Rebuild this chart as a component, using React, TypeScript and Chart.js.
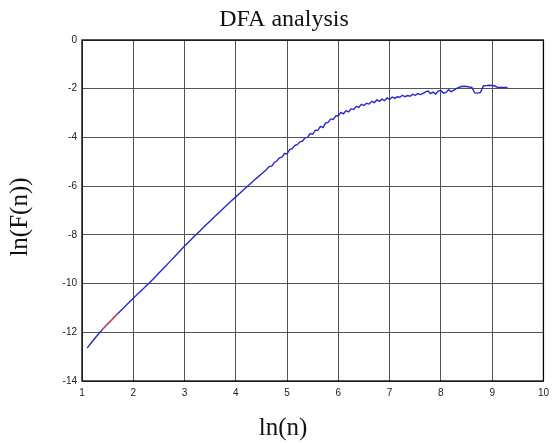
import React, { useEffect, useRef } from "react";
import { Chart, registerables } from "chart.js";

Chart.register(...registerables);

const chartTitle = "DFA analysis";
const xAxisTitle = "ln(n)";
const yAxisTitle = "ln(F(n))";

const xTickValues = [1, 2, 3, 4, 5, 6, 7, 8, 9, 10];
const yTickValues = [0, -2, -4, -6, -8, -10, -12, -14];

// DFA fluctuation curve: ln(n) vs ln(F(n))
const curveX = [
  1.1, 1.2, 1.3, 1.4, 1.5, 1.6, 1.7, 1.8, 1.9, 2.0,
  2.1, 2.2, 2.3, 2.4, 2.5, 2.6, 2.7, 2.8, 2.9, 3.0,
  3.1, 3.2, 3.3, 3.4, 3.5, 3.6, 3.7, 3.8, 3.9, 4.0,
  4.1, 4.2, 4.3, 4.4, 4.5, 4.6,
  4.65, 4.7, 4.75, 4.8, 4.85, 4.9, 4.95, 5.0, 5.05, 5.1,
  5.15, 5.2, 5.25, 5.3, 5.35, 5.4, 5.45, 5.5, 5.55, 5.6,
  5.65, 5.7, 5.75, 5.8, 5.85, 5.9, 5.95, 6.0, 6.05, 6.1,
  6.15, 6.2, 6.25, 6.3, 6.35, 6.4, 6.45, 6.5, 6.55, 6.6,
  6.65, 6.7, 6.75, 6.8, 6.85, 6.9, 6.95, 7.0, 7.05, 7.1,
  7.15, 7.2, 7.25, 7.3, 7.35, 7.4, 7.45, 7.5, 7.55, 7.6,
  7.65, 7.7, 7.75, 7.8, 7.85, 7.9, 7.95, 8.0, 8.05, 8.1,
  8.15, 8.2, 8.25, 8.3, 8.35, 8.4, 8.45, 8.5, 8.55, 8.6,
  8.63, 8.66, 8.72, 8.77, 8.8, 8.83, 8.9, 8.95, 9.0, 9.05,
  9.1, 9.2, 9.3,
];
const curveY = [
  -12.65, -12.38, -12.12, -11.88, -11.66, -11.44, -11.23, -11.02, -10.81, -10.6,
  -10.4, -10.2, -10.0, -9.79, -9.57, -9.35, -9.13, -8.91, -8.68, -8.46,
  -8.25, -8.04, -7.84, -7.63, -7.43, -7.23, -7.03, -6.83, -6.63, -6.44,
  -6.25, -6.06, -5.87, -5.68, -5.5, -5.32,
  -5.2, -5.18, -5.03, -4.97, -4.84, -4.81, -4.66, -4.67, -4.5, -4.46,
  -4.33, -4.3, -4.18, -4.15, -4.02, -4.0, -3.84, -3.87, -3.7, -3.71,
  -3.55, -3.6, -3.41, -3.38, -3.24, -3.26, -3.12, -3.1, -2.97, -3.03,
  -2.9, -2.95, -2.82, -2.85, -2.72, -2.77, -2.64, -2.69, -2.6, -2.63,
  -2.52, -2.57, -2.46, -2.52, -2.43, -2.49, -2.38, -2.44, -2.34, -2.4,
  -2.33, -2.35, -2.27, -2.33, -2.28, -2.31, -2.23, -2.27, -2.2, -2.24,
  -2.2, -2.13, -2.1, -2.2, -2.14, -2.22, -2.1, -2.07, -2.18, -2.15,
  -2.04, -2.12, -2.07, -2.0, -1.95, -1.91, -1.9, -1.91, -1.93, -1.94,
  -2.05, -2.17, -2.18, -2.15, -2.02, -1.88, -1.87, -1.86, -1.87, -1.89,
  -1.94, -1.95, -1.95,
];

// short red fitted segment near the start
const fitX = [1.4, 1.5, 1.6, 1.7];
const fitY = [-11.88, -11.66, -11.44, -11.23];

const toPoints = (xs: number[], ys: number[]) => xs.map((x, i) => ({ x, y: ys[i] }));

const textPlugin = {
  id: "textPlugin",
  afterDraw(chart: any) {
    const { ctx, chartArea } = chart;
    ctx.save();
    ctx.strokeStyle = "#000";
    ctx.lineWidth = 1.3;
    ctx.strokeRect(chartArea.left, chartArea.top, chartArea.right - chartArea.left, chartArea.bottom - chartArea.top);
    ctx.fillStyle = "#111";
    ctx.textAlign = "center";
    ctx.textBaseline = "middle";
    ctx.font = '24px "Liberation Serif"';
    ctx.fillText(chartTitle, 284, 20);
    ctx.font = '25px "Liberation Serif"';
    ctx.fillText(xAxisTitle, 283, 428);
    ctx.translate(20, 217);
    ctx.rotate(-Math.PI / 2);
    ctx.fillText(yAxisTitle, 0, 0);
    ctx.restore();
  },
};

export default function App() {
  const canvasRef = useRef<HTMLCanvasElement | null>(null);

  useEffect(() => {
    document.body.style.margin = "0";
    const canvas = canvasRef.current;
    if (!canvas) return;
    const tickFont = { family: '"Liberation Sans", Arial, sans-serif', size: 10 };
    const chart = new Chart(canvas, {
      type: "scatter",
      data: {
        datasets: [
          {
            data: toPoints(curveX, curveY),
            showLine: true,
            borderColor: "#2828cc",
            borderWidth: 1.4,
            pointRadius: 0,
            fill: false,
            tension: 0,
            order: 2,
          },
          {
            data: toPoints(fitX, fitY),
            showLine: true,
            borderColor: "#e04848",
            borderWidth: 1.4,
            pointRadius: 0,
            fill: false,
            order: 1,
          },
        ],
      },
      plugins: [textPlugin],
      options: {
        responsive: false,
        animation: false,
        layout: { padding: { top: 40, right: 10, left: 0, bottom: 0 } },
        plugins: {
          legend: { display: false },
          title: { display: false },
          tooltip: { enabled: false },
        },
        scales: {
          x: {
            type: "linear",
            min: xTickValues[0],
            max: xTickValues[xTickValues.length - 1],
            afterBuildTicks: (scale: any) => {
              scale.ticks = xTickValues.map((v) => ({ value: v }));
            },
            afterFit: (scale: any) => {
              scale.height = 62;
            },
            grid: { color: "#555", lineWidth: 1, drawTicks: false },
            border: { display: false },
            ticks: { font: tickFont, color: "#222", padding: 6, maxRotation: 0 },
          },
          y: {
            type: "linear",
            min: yTickValues[yTickValues.length - 1],
            max: yTickValues[0],
            afterBuildTicks: (scale: any) => {
              scale.ticks = [...yTickValues].reverse().map((v) => ({ value: v }));
            },
            afterFit: (scale: any) => {
              scale.width = 82;
            },
            grid: { color: "#555", lineWidth: 1, drawTicks: false },
            border: { display: false },
            ticks: { font: tickFont, color: "#222", padding: 5 },
          },
        },
      },
    });
    return () => chart.destroy();
  }, []);

  return (
    <div style={{ width: 555, height: 443, background: "#fff" }}>
      <canvas ref={canvasRef} width={555} height={443} />
    </div>
  );
}
